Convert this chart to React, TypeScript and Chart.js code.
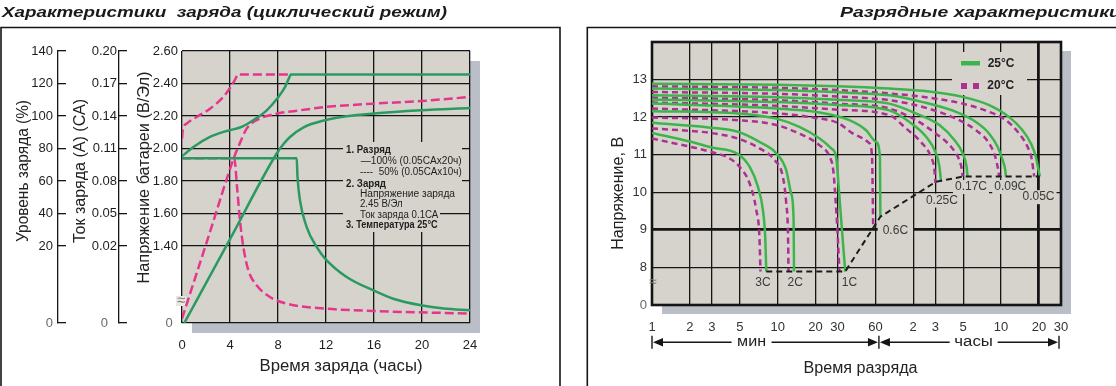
import React, { useEffect, useRef } from "react";
import { Chart, registerables } from "chart.js";

Chart.register(...registerables);

const FONT = '"Liberation Sans", Arial, Helvetica, sans-serif';
Chart.defaults.font.family = FONT;

// ================= LEFT: Характеристики заряда =================
const chargeHourTicks = [0, 4, 8, 12, 16, 20, 24];
const chargeVoltTicks = [1.4, 1.6, 1.8, 2.0, 2.2, 2.4, 2.6];
const chargeLevelTicks = [20, 40, 60, 80, 100, 120, 140];
const chargeCurrentTicks = [0.02, 0.05, 0.08, 0.11, 0.14, 0.17, 0.2];
// broken-axis bottoms (labelled "0")
const VOLT_BREAK = 0.926;
const LEVEL_BREAK = -27.4;
const CURRENT_BREAK = -0.0511;

// 100% discharged (solid green)
const voltFullH = [0, 0.95, 2.33, 3.72, 4.83, 5.94, 7.06, 8.03, 8.58, 8.9, 9.08, 24];
const voltFullV = [1.952, 2.009, 2.071, 2.108, 2.129, 2.174, 2.235, 2.317, 2.378, 2.43, 2.455, 2.455];
const levelFullH = [0.19, 4, 7.89, 8.44, 9.0, 10.1, 11.92, 13.7, 15.94, 19.92, 24];
const levelFullP = [-27.4, 24.2, 76.9, 82.6, 87.1, 92.9, 97.4, 99.8, 101.5, 103.5, 104.9];
const currentFullH = [0, 9.56, 9.62, 9.83, 10.39, 11.22, 11.92, 13.72, 15.94, 17.6, 19.92, 21.8, 24];
const currentFullA = [0.101, 0.101, 0.085, 0.0622, 0.0375, 0.0191, 0.0084, -0.0086, -0.021, -0.0287, -0.0348, -0.0378, -0.0394];
// 50% discharged (dashed pink)
const voltHalfH = [0, 0.06, 0.39, 1.22, 2.33, 3.44, 4.14, 4.5, 4.61, 9.0];
const voltHalfV = [2.061, 2.112, 2.153, 2.194, 2.245, 2.317, 2.389, 2.435, 2.455, 2.455];
const levelHalfH = [0, 2.2, 4.33, 4.69, 5.39, 6.5, 7.94, 9.83, 11.92, 15.94, 19.92, 24];
const levelHalfP = [-24.7, 25.6, 74.4, 80.9, 92.2, 98.4, 101.5, 103.5, 105.5, 107.6, 109.2, 111.7];
const currentHalfH = [0, 4.35, 4.61, 4.83, 5.11, 5.53, 6.22, 7.33, 8.72, 11.92, 15.94, 24];
const currentHalfA = [0.101, 0.101, 0.0714, 0.0437, 0.0191, -0.0024, -0.0163, -0.0271, -0.0332, -0.0378, -0.04, -0.0424];

// ================= RIGHT: Разрядные характеристики =================
const minuteTicks = [1, 2, 3, 5, 10, 20, 30, 60, 120, 180, 300, 600, 1200, 1800];
const minuteTickLabels = ["1", "2", "3", "5", "10", "20", "30", "60", "2", "3", "5", "10", "20", "30"];
const dischargeVoltTicks = [7, 8, 9, 10, 11, 12, 13, 14];
const DISCHARGE_BREAK = 7; // labelled "0"
const rates = ["3C", "2C", "1C", "0.6C", "0.25C", "0.17C", "0.09C", "0.05C"];

// 25°C (solid green): time in minutes, voltage in V
const g3cT = [1, 2, 3, 4.83, 5.98, 6.96, 7.63, 7.96, 8.12];
const g3cV = [11.58, 11.35, 11.19, 11.02, 10.68, 10.15, 9.53, 8.82, 7.89];
const g2cT = [1, 2.91, 4.83, 7.16, 9.8, 11.7, 12.8, 13.4, 13.5];
const g2cV = [11.85, 11.72, 11.61, 11.34, 11.03, 10.59, 9.97, 9.27, 7.89];
const g1cT = [1, 4.83, 9.8, 14.9, 21.6, 26.7, 29.2, 30.6, 32.5, 34.5];
const g1cV = [12.16, 12.1, 11.96, 11.74, 11.43, 11.17, 10.94, 10.15, 9.0, 7.89];
const g06cT = [1, 9.8, 20, 37.2, 50.6, 60.7, 65.2, 65.7];
const g06cV = [12.36, 12.23, 12.14, 11.92, 11.65, 11.34, 10.94, 9.35];
const g025cT = [1, 10, 30, 77.5, 112, 152, 182, 194, 200];
const g025cV = [12.47, 12.4, 12.32, 12.18, 11.87, 11.48, 11.04, 10.68, 10.28];
const g017cT = [1, 10, 30, 77.5, 126, 194, 255, 297, 319, 325];
const g017cV = [12.58, 12.53, 12.46, 12.36, 12.1, 11.79, 11.39, 11.04, 10.68, 10.42];
const g009cT = [1, 10, 30, 77.5, 143, 263, 379, 483, 563, 617, 648, 656];
const g009cV = [12.76, 12.72, 12.66, 12.58, 12.4, 12.14, 11.87, 11.56, 11.21, 10.86, 10.59, 10.42];
const g005cT = [1, 10, 30, 77.5, 143, 297, 483, 697, 889, 1037, 1137, 1192, 1223];
const g005cV = [12.89, 12.86, 12.82, 12.76, 12.7, 12.54, 12.32, 12.0, 11.65, 11.3, 10.94, 10.59, 10.42];

// 20°C (dashed purple)
const p3cT = [1, 1.9, 2.91, 4.15, 4.97, 5.98, 6.76, 7.16, 7.3];
const p3cV = [11.43, 11.23, 11.08, 10.9, 10.68, 10.24, 9.53, 8.82, 7.89];
const p2cT = [1, 2.91, 4.83, 7.16, 9.44, 11.0, 11.7, 12.1, 12.2];
const p2cV = [11.7, 11.58, 11.43, 11.17, 10.86, 10.41, 9.71, 8.82, 7.89];
const p1cT = [1, 4.83, 9.8, 14.9, 21.6, 26.0, 27.7, 28.8, 30.1, 31.0];
const p1cV = [11.99, 11.92, 11.79, 11.56, 11.25, 10.94, 10.59, 9.88, 8.82, 7.89];
const p06cT = [1, 10, 20, 30, 42.1, 53.9, 56.4, 57.6];
const p06cV = [12.23, 12.1, 11.98, 11.85, 11.52, 11.3, 10.94, 9.1];
const p025cT = [1, 10, 30, 77.5, 105, 138, 166, 177, 180];
const p025cV = [12.39, 12.3, 12.2, 12.05, 11.7, 11.34, 10.94, 10.59, 10.25];
const p017cT = [1, 10, 30, 77.5, 126, 182, 240, 279, 293, 297];
const p017cV = [12.52, 12.45, 12.36, 12.23, 11.92, 11.56, 11.21, 10.86, 10.59, 10.42];
const p009cT = [1, 10, 30, 77.5, 143, 263, 379, 483, 540, 570, 580];
const p009cV = [12.67, 12.62, 12.55, 12.45, 12.27, 11.96, 11.65, 11.3, 10.94, 10.59, 10.42];
const p005cT = [1, 10, 30, 77.5, 143, 297, 483, 656, 837, 975, 1056, 1084, 1102];
const p005cV = [12.82, 12.78, 12.72, 12.63, 12.54, 12.36, 12.14, 11.92, 11.56, 11.21, 10.86, 10.59, 10.42];

// end-of-discharge voltage line (black dashed)
const endLineT = [8.12, 34.5, 65.7, 182, 300, 1223];
const endLineV = [7.89, 7.89, 9.35, 10.28, 10.42, 10.42];

// rate label anchors (data space)
const rateLabelT = [7.63, 13.8, 37.3, 86.5, 203, 346, 710, 1192];
const rateLabelV = [7.6, 7.6, 7.6, 8.97, 9.78, 10.14, 10.14, 9.87];

// ================= styling =================
const PLOT_BG = "#d6d3cc";
const SHADOW = "#b9bec7";
const GREEN_L = "#2b9a62";
const PINK_L = "#e6368c";
const GREEN_R = "#3db54c";
const PINK_R = "#ad3192";
const INK = "#151515";

const pts = (xs: number[], ys: number[]) => xs.map((x, i) => ({ x, y: ys[i] }));

function line(data: any, color: string, axis: string, dash: number[] = [], width = 2.5, smooth = true): any {
  return {
    data,
    yAxisID: axis,
    borderColor: color,
    borderWidth: width,
    borderDash: dash,
    pointRadius: 0,
    fill: false,
    cubicInterpolationMode: smooth ? "monotone" : "default",
    tension: 0,
    borderCapStyle: "butt",
    borderJoinStyle: "round",
  };
}

type TOpt = { font: string; color?: string; align?: CanvasTextAlign; width?: number; rotate?: number; sx?: number };
function txt(ctx: CanvasRenderingContext2D, s: string, x: number, y: number, o: TOpt) {
  ctx.save();
  ctx.font = o.font;
  ctx.fillStyle = o.color || "#1e1e1e";
  ctx.textBaseline = "middle";
  ctx.textAlign = o.align || "center";
  ctx.translate(x, y);
  if (o.rotate) ctx.rotate(o.rotate);
  let sx = o.sx || 1;
  if (o.width) {
    const w = ctx.measureText(s).width;
    if (w > 0) sx = o.width / w;
  }
  ctx.scale(sx, 1);
  ctx.fillText(s, 0, 0);
  ctx.restore();
}

const TITLE_FONT = `italic bold 15px ${FONT}`;

// ---------------- left plugin ----------------
const leftDecor: any = {
  id: "leftDecor",
  beforeDraw(chart: any) {
    const { ctx, chartArea: a } = chart;
    ctx.save();
    ctx.fillStyle = SHADOW;
    ctx.fillRect(a.left + 10, a.top + 10, a.right - a.left, a.bottom - a.top);
    ctx.fillStyle = PLOT_BG;
    ctx.fillRect(a.left, a.top, a.right - a.left, a.bottom - a.top);
    ctx.restore();
  },
  beforeDatasetsDraw(chart: any) {
    const { ctx } = chart;
    ctx.save();
    // note box hides the grid
    ctx.fillStyle = PLOT_BG;
    ctx.beginPath();
    ctx.moveTo(343, 142);
    ctx.lineTo(462, 142);
    ctx.lineTo(462, 200);
    ctx.lineTo(440, 200);
    ctx.lineTo(440, 232);
    ctx.lineTo(343, 232);
    ctx.closePath();
    ctx.fill();
    // break mark
    ctx.fillStyle = "#e9e7e2";
    ctx.fillRect(176, 296, 10, 10);
    ctx.restore();
    txt(ctx, "≈", 181, 301, { font: `15px ${FONT}`, color: "#7a7a7a" });
  },
  afterDraw(chart: any) {
    const { ctx } = chart;
    txt(ctx, "Характеристики  заряда (циклический режим)", 2, 13, { font: TITLE_FONT, align: "left", width: 445, color: "#1a1a1a" });
    ctx.save();
    ctx.strokeStyle = INK;
    ctx.lineWidth = 1.6;
    ctx.beginPath();
    ctx.moveTo(1, 390);
    ctx.lineTo(1, 27.5);
    ctx.lineTo(560, 27.5);
    ctx.lineTo(560, 390);
    ctx.stroke();
    ctx.restore();
    const f16 = `16px ${FONT}`;
    txt(ctx, "Уровень заряда (%)", 23.3, 171, { font: f16, rotate: -Math.PI / 2, width: 142, color: "#222" });
    txt(ctx, "Ток заряда (А) (СА)", 81, 171, { font: f16, rotate: -Math.PI / 2, width: 144, color: "#222" });
    txt(ctx, "Напряжение батареи (В/Эл)", 144.3, 177.5, { font: f16, rotate: -Math.PI / 2, width: 212, color: "#222" });
    txt(ctx, "Время заряда (часы)", 341, 366.7, { font: f16, width: 163, color: "#222" });
    const b10 = `bold 10px ${FONT}`;
    const r10 = `10px ${FONT}`;
    const notes: [string, number, number, string, number][] = [
      ["1. Разряд", 346, 150.7, b10, 45],
      ["—100% (0.05CAx20ч)", 360.7, 160.9, r10, 101],
      ["----  50% (0.05CAx10ч)", 360, 172.3, r10, 101.7],
      ["2. Заряд", 346, 184, `bold 11px ${FONT}`, 40],
      ["Напряжение заряда", 360, 194, r10, 95],
      ["2.45 В/Эл", 360, 204.3, r10, 42.7],
      ["Ток заряда 0.1СА", 360, 215, r10, 78.3],
      ["3. Температура 25°С", 346, 225, b10, 91.7],
    ];
    notes.forEach(([s, x, y, f, w]) => txt(ctx, s, x, y, { font: f, align: "left", width: w, color: "#1e1e1e" }));
  },
};

function leftConfig(): any {
  const tickFont = { size: 13, family: FONT };
  const sideAxis = (ticks: number[], brk: number, weight: number, width: number, padding: number, fmt: (v: number) => string, zero: string) => ({
    type: "linear",
    position: "left",
    weight,
    min: brk,
    max: ticks[ticks.length - 1],
    afterBuildTicks: (s: any) => {
      s.ticks = [brk, ...ticks].map((v) => ({ value: v }));
    },
    afterFit: (s: any) => {
      s.width = width;
    },
    ticks: {
      font: tickFont,
      padding,
      color: (c: any) => (c.tick && c.tick.value === brk ? "#6a6a6a" : "#1e1e1e"),
      callback: (v: number) => (v === brk ? zero : fmt(v)),
    },
    grid: { drawOnChartArea: false, drawTicks: true, tickLength: -8, color: INK, lineWidth: 1.3 },
    border: { display: true, color: INK, width: 1.3 },
  });
  return {
    type: "line",
    data: {
      datasets: [
        line(pts(voltFullH, voltFullV), GREEN_L, "yV"),
        line(pts(levelFullH, levelFullP), GREEN_L, "yP"),
        line(pts(currentFullH, currentFullA), GREEN_L, "yC"),
        line(pts(voltHalfH, voltHalfV), PINK_L, "yV", [9, 4]),
        line(pts(levelHalfH, levelHalfP), PINK_L, "yP", [9, 4]),
        line(pts(currentHalfH, currentHalfA), PINK_L, "yC", [9, 4]),
      ],
    },
    options: {
      animation: false,
      responsive: false,
      maintainAspectRatio: false,
      layout: { padding: { left: 0, right: 104, top: 51, bottom: 0 } },
      plugins: { legend: { display: false }, tooltip: { enabled: false }, title: { display: false } },
      events: [],
      scales: {
        x: {
          type: "linear",
          min: 0,
          max: 24,
          afterBuildTicks: (s: any) => {
            s.ticks = chargeHourTicks.map((v) => ({ value: v }));
          },
          afterFit: (s: any) => {
            s.height = 63;
          },
          ticks: { font: tickFont, color: "#1e1e1e", padding: 15, maxRotation: 0, autoSkip: false },
          grid: { color: INK, lineWidth: 1.3, drawTicks: false },
          border: { display: false },
        },
        yP: sideAxis(chargeLevelTicks, LEVEL_BREAK, 3, 58, 13, (v) => String(Math.round(v)), "0"),
        yC: sideAxis(chargeCurrentTicks, CURRENT_BREAK, 2, 61, 10, (v) => v.toFixed(2), "0\u2002\u2009"),
        yV: {
          type: "linear",
          position: "left",
          weight: 1,
          min: VOLT_BREAK,
          max: 2.6,
          afterBuildTicks: (s: any) => {
            s.ticks = [VOLT_BREAK, ...chargeVoltTicks].map((v) => ({ value: v }));
          },
          afterFit: (s: any) => {
            s.width = 63;
          },
          ticks: {
            font: tickFont,
            padding: 4,
            color: (c: any) => (c.tick && c.tick.value === VOLT_BREAK ? "#6a6a6a" : "#1e1e1e"),
            callback: (v: number) => (v === VOLT_BREAK ? "0\u2009\u2009" : v.toFixed(2)),
          },
          grid: { color: INK, lineWidth: 1.3, drawTicks: false },
          border: { display: false },
        },
      },
    },
    plugins: [leftDecor],
  };
}

// ---------------- right plugin ----------------
const rightDecor: any = {
  id: "rightDecor",
  beforeDraw(chart: any) {
    const { ctx, chartArea: a } = chart;
    ctx.save();
    ctx.fillStyle = SHADOW;
    ctx.fillRect(a.left + 10, a.top + 9, a.right - a.left, a.bottom - a.top);
    ctx.fillStyle = PLOT_BG;
    ctx.fillRect(a.left, a.top, a.right - a.left, a.bottom - a.top);
    ctx.restore();
  },
  beforeDatasetsDraw(chart: any) {
    const { ctx, chartArea: a, scales } = chart;
    ctx.save();
    ctx.strokeStyle = INK;
    ctx.lineWidth = 2.6;
    ctx.strokeRect(a.left, a.top, a.right - a.left, a.bottom - a.top);
    // legend background
    ctx.fillStyle = PLOT_BG;
    ctx.fillRect(378, 52, 75, 43);
    // rate label backgrounds
    ctx.font = `12px ${FONT}`;
    rates.forEach((r, i) => {
      const x = scales.x.getPixelForValue(rateLabelT[i]);
      const y = scales.y.getPixelForValue(rateLabelV[i]);
      const w = ctx.measureText(r).width + (i === 3 ? 10 : 4);
      ctx.fillRect(x - w / 2, y - 7, w, 14);
    });
    // legend items
    ctx.fillStyle = GREEN_R;
    ctx.fillRect(387, 61, 19, 4.5);
    ctx.fillStyle = PINK_R;
    ctx.fillRect(387, 83, 6, 6);
    ctx.fillRect(399, 83, 6, 6);
    ctx.restore();
    txt(ctx, "25°C", 413.7, 63.3, { font: `bold 12px ${FONT}`, align: "left", color: "#222" });
    txt(ctx, "20°C", 413.3, 86, { font: `bold 12px ${FONT}`, align: "left", color: "#222" });
    txt(ctx, "≈", 79, 282.3, { font: `14px ${FONT}`, color: "#7a7a7a" });
  },
  afterDatasetsDraw(chart: any) {
    const { ctx, scales } = chart;
    rates.forEach((r, i) => {
      const x = scales.x.getPixelForValue(rateLabelT[i]);
      const y = scales.y.getPixelForValue(rateLabelV[i]);
      txt(ctx, r, x, y, { font: `12px ${FONT}`, color: "#3a3a3a" });
    });
  },
  afterDraw(chart: any) {
    const { ctx, scales } = chart;
    txt(ctx, "Разрядные характеристики", 266, 13, { font: TITLE_FONT, align: "left", width: 281, color: "#1a1a1a" });
    ctx.save();
    ctx.strokeStyle = INK;
    ctx.lineWidth = 1.6;
    ctx.beginPath();
    ctx.moveTo(13.3, 390);
    ctx.lineTo(13.3, 27.5);
    ctx.lineTo(560, 27.5);
    ctx.stroke();
    ctx.restore();
    txt(ctx, "Напряжение, В", 44.3, 193.3, { font: `16px ${FONT}`, rotate: -Math.PI / 2, width: 113, color: "#222" });
    txt(ctx, "Время разряда", 286.5, 368.3, { font: `16px ${FONT}`, width: 114, color: "#222" });

    // min / hours arrows
    const y = 342.3;
    const x1 = scales.x.getPixelForValue(1);
    const x60 = scales.x.getPixelForValue(60) + 3.5;
    const xe = scales.x.getPixelForValue(1800) - 2;
    const xMin = scales.x.getPixelForValue(6.2);
    const xHrs = scales.x.getPixelForValue(363);
    ctx.save();
    ctx.strokeStyle = INK;
    ctx.fillStyle = INK;
    ctx.lineWidth = 1.4;
    const bar = (x: number) => {
      ctx.beginPath();
      ctx.moveTo(x, y - 6.5);
      ctx.lineTo(x, y + 6.5);
      ctx.stroke();
    };
    const head = (tip: number, dir: number) => {
      ctx.beginPath();
      ctx.moveTo(tip, y);
      ctx.lineTo(tip - dir * 10, y - 4.2);
      ctx.lineTo(tip - dir * 10, y + 4.2);
      ctx.closePath();
      ctx.fill();
    };
    const seg = (a: number, b: number) => {
      ctx.beginPath();
      ctx.moveTo(a, y);
      ctx.lineTo(b, y);
      ctx.stroke();
    };
    bar(x1);
    head(x1 + 1, -1);
    seg(x1 + 10, xMin - 20);
    seg(xMin + 20, x60 - 10);
    head(x60 - 1, 1);
    bar(x60);
    head(x60 + 1, -1);
    seg(x60 + 10, xHrs - 24);
    seg(xHrs + 24, xe - 10);
    head(xe - 1, 1);
    bar(xe);
    ctx.restore();
    txt(ctx, "мин", xMin, y, { font: `14px ${FONT}`, width: 29, color: "#222" });
    txt(ctx, "часы", xHrs, y, { font: `14px ${FONT}`, width: 38.7, color: "#222" });
  },
};

function rightConfig(): any {
  const tickFont = { size: 13, family: FONT };
  const greens = [
    [g3cT, g3cV], [g2cT, g2cV], [g1cT, g1cV], [g06cT, g06cV],
    [g025cT, g025cV], [g017cT, g017cV], [g009cT, g009cV], [g005cT, g005cV],
  ];
  const pinks = [
    [p3cT, p3cV], [p2cT, p2cV], [p1cT, p1cV], [p06cT, p06cV],
    [p025cT, p025cV], [p017cT, p017cV], [p009cT, p009cV], [p005cT, p005cV],
  ];
  const datasets: any[] = [];
  datasets.push(line(pts(endLineT, endLineV), "#1c1c1c", "y", [6, 4], 2, false));
  greens.forEach(([t, v]) => datasets.push(line(pts(t, v), GREEN_R, "y")));
  pinks.forEach(([t, v]) => datasets.push(line(pts(t, v), PINK_R, "y", [6, 4])));
  return {
    type: "line",
    data: { datasets },
    options: {
      animation: false,
      responsive: false,
      maintainAspectRatio: false,
      layout: { padding: { left: 0, right: 55, top: 42, bottom: 0 } },
      plugins: { legend: { display: false }, tooltip: { enabled: false }, title: { display: false } },
      events: [],
      scales: {
        x: {
          type: "logarithmic",
          min: 1,
          max: 1800,
          afterBuildTicks: (s: any) => {
            s.ticks = minuteTicks.map((v) => ({ value: v }));
          },
          afterFit: (s: any) => {
            s.height = 81;
          },
          ticks: {
            font: tickFont,
            color: "#333",
            padding: 15,
            maxRotation: 0,
            autoSkip: false,
            callback: (_v: number, i: number) => minuteTickLabels[i],
          },
          grid: {
            color: INK,
            lineWidth: (c: any) => (c.tick && c.tick.value === 1200 ? 2.8 : 1.3),
            drawTicks: false,
          },
          border: { display: false },
        },
        y: {
          type: "linear",
          position: "left",
          min: DISCHARGE_BREAK,
          max: 14,
          afterBuildTicks: (s: any) => {
            s.ticks = dischargeVoltTicks.map((v) => ({ value: v }));
          },
          afterFit: (s: any) => {
            s.width = 78;
          },
          ticks: {
            font: tickFont,
            padding: 5,
            color: (c: any) => (c.tick && c.tick.value === DISCHARGE_BREAK ? "#666" : "#333"),
            callback: (v: number) => (v === DISCHARGE_BREAK ? "0" : v === 14 ? "" : String(v)),
          },
          grid: {
            color: INK,
            lineWidth: (c: any) => (c.tick && c.tick.value === 9 ? 2.8 : 1.3),
            drawTicks: false,
          },
          border: { display: false },
        },
      },
    },
    plugins: [rightDecor],
  };
}

export default function App() {
  const leftRef = useRef<HTMLCanvasElement | null>(null);
  const rightRef = useRef<HTMLCanvasElement | null>(null);
  useEffect(() => {
    const c1 = new Chart(leftRef.current as HTMLCanvasElement, leftConfig());
    const c2 = new Chart(rightRef.current as HTMLCanvasElement, rightConfig());
    return () => {
      c1.destroy();
      c2.destroy();
    };
  }, []);
  return (
    <div style={{ position: "absolute", left: 0, top: 0, width: 1116, height: 386, background: "#fff", overflow: "hidden" }}>
      <canvas ref={leftRef} width={574} height={386} style={{ position: "absolute", left: 0, top: 0, width: 574, height: 386 }} />
      <canvas ref={rightRef} width={542} height={386} style={{ position: "absolute", left: 574, top: 0, width: 542, height: 386 }} />
    </div>
  );
}
